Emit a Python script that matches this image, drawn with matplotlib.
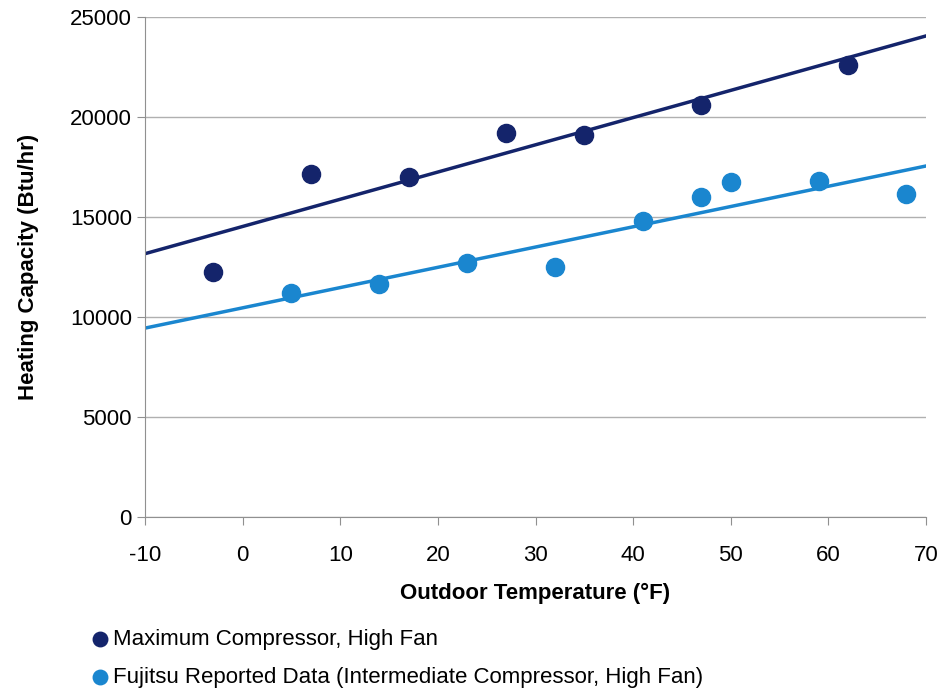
import numpy as np
import matplotlib.pyplot as plt

plt.rcParams['font.family'] = ['Liberation Sans', 'DejaVu Sans']
plt.rcParams['axes.unicode_minus'] = False

# Данные
temp_max = [-3, 7, 17, 27, 35, 47, 62]
cap_max = [12250, 17150, 17000, 19200, 19100, 20600, 22600]
temp_fuj = [5, 14, 23, 32, 41, 47, 50, 59, 68]
cap_fuj = [11200, 11650, 12700, 12500, 14800, 16000, 16750, 16800, 16150]

dark = '#14246b'
light = '#1a86cf'

fig = plt.figure(figsize=(9.42, 6.93), dpi=100)
ax = fig.add_axes([0.154, 0.254, 0.829, 0.721])

ax.scatter(temp_max, cap_max, s=170, color=dark, zorder=3,
           label='Maximum Compressor, High Fan')
ax.scatter(temp_fuj, cap_fuj, s=170, color=light, zorder=3,
           label='Fujitsu Reported Data (Intermediate Compressor, High Fan)')

# Линии тренда (линейная регрессия)
xs = np.array([-10, 70])
for t, c, col in [(temp_max, cap_max, dark), (temp_fuj, cap_fuj, light)]:
    k, b = np.polyfit(t, c, 1)
    ax.plot(xs, k * xs + b, color=col, lw=2.5, zorder=2)

ax.set_xlim(-10, 70)
ax.set_ylim(0, 25000)
ax.set_xticks(range(-10, 71, 10))
ax.set_yticks(range(0, 25001, 5000))
ax.grid(axis='y', color='#b0b0b0', lw=1)
ax.set_axisbelow(True)
for s in ['top', 'right']:
    ax.spines[s].set_visible(False)
for s in ['left', 'bottom']:
    ax.spines[s].set_color('#909090')
ax.tick_params(colors='#909090', labelcolor='black', labelsize=16, length=6)
ax.tick_params(axis='x', pad=14)

ax.set_xlabel('Outdoor Temperature (°F)', fontsize=16, fontweight='bold', labelpad=12)
ax.set_ylabel('Heating Capacity (Btu/hr)', fontsize=16, fontweight='bold', labelpad=22)

fig.legend(loc='upper left', bbox_to_anchor=(0.085, 0.105), frameon=False,
           fontsize=16, handletextpad=0.1, labelspacing=0.75,
           handlelength=1, borderaxespad=0, markerscale=0.8)

fig.savefig('out.png', dpi=100)
